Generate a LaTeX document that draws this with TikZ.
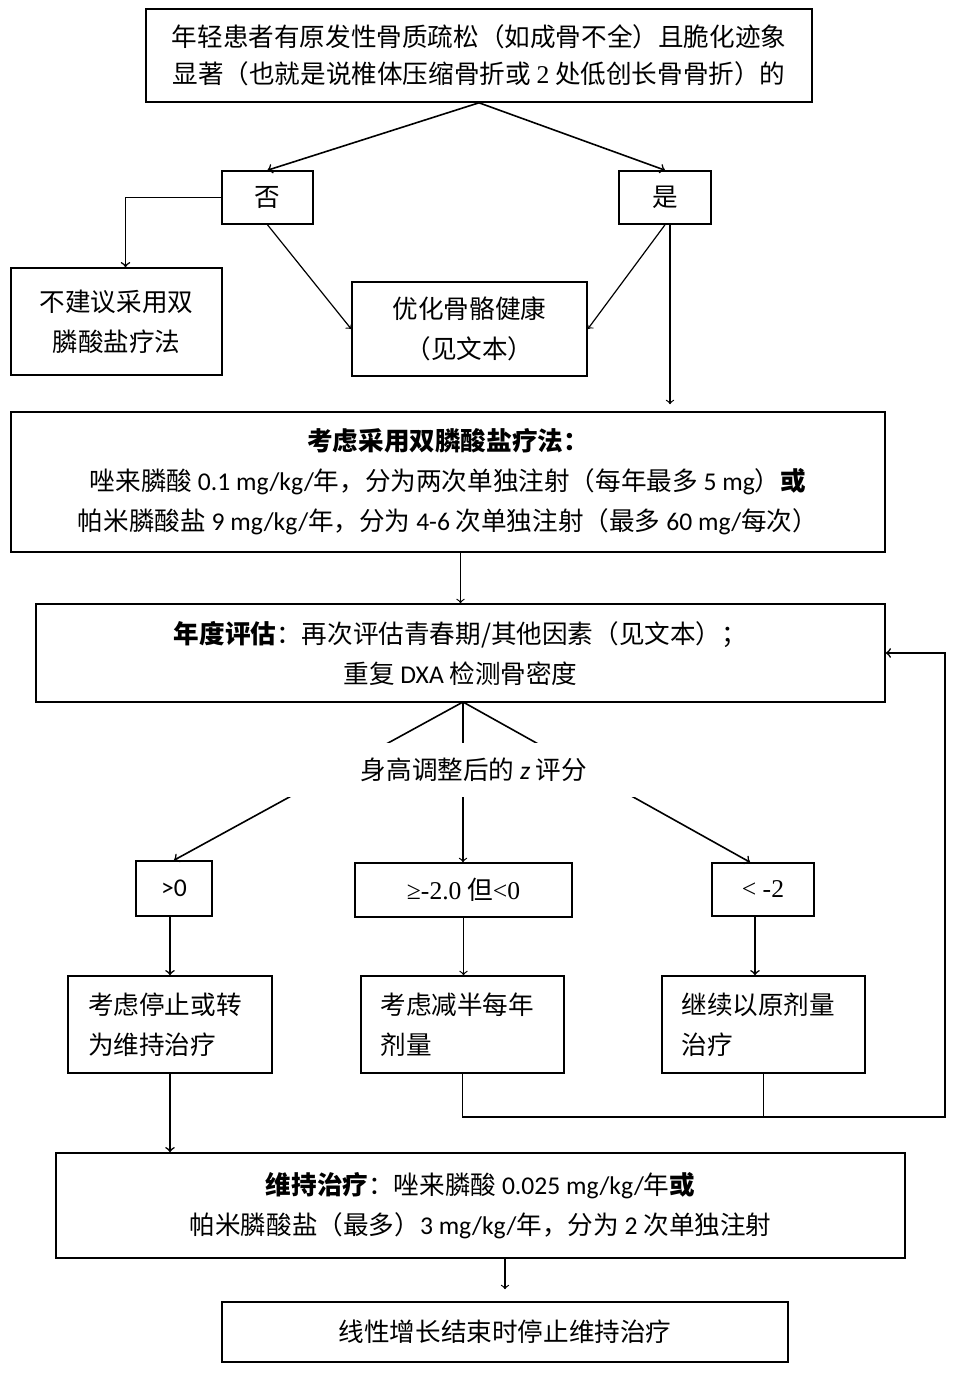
\documentclass[tikz,border=0pt]{standalone}
\usepackage{fontspec}
\setmainfont{Noto Sans CJK SC}
\newfontfamily\calfont{Carlito}
\newfontfamily\timesfont{Liberation Serif}
\newcommand{\cb}[1]{{\calfont #1}}
\newcommand{\tm}[1]{{\timesfont #1}}
\usetikzlibrary{arrows}

\tikzset{
  box/.style={draw, line width=.8pt, inner sep=0pt, align=center},
  leftbox/.style={box, align=left, text width=82pt},
  conn/.style={->, line width=.6pt},
  link/.style={line width=.8pt}
}

\begin{document}
\begin{tikzpicture}[x=.5pt,y=-.5pt,font=\fontsize{12.8}{20}\selectfont]
  \useasboundingbox (0,0) rectangle (958,1374);
  % first question
  \node[box, minimum width=333pt, minimum height=46.5pt,
        font=\fontsize{12.8}{18.5}\selectfont] (top) at (479,55.5)
    {年轻患者有原发性骨质疏松（如成骨不全）且脆化迹象\\
     显著（也就是说椎体压缩骨折或 \tm{2} 处低创长骨骨折）的};
  \node[box, minimum width=45.5pt, minimum height=26.5pt] (no) at (267.5,197.5) {否};
  \node[box, minimum width=46pt, minimum height=26.5pt] (yes) at (665,197.5) {是};
  \node[box, minimum width=105.5pt, minimum height=53.5pt] (nobis) at (116.5,321.5)
    {不建议采用双\\膦酸盐疗法};
  \node[box, minimum width=117.5pt, minimum height=47pt] (bone) at (469.5,329)
    {优化骨骼健康\\（见文本）};
  % treatment
  \node[box, minimum width=437pt, minimum height=70pt] (bis) at (448,482)
    {\textbf{考虑采用双膦酸盐疗法：}\\
     唑来膦酸 \cb{0.1 mg/kg/}年，分为两次单独注射（每年最多 \cb{5 mg}）\textbf{或}\\
     帕米膦酸盐 \cb{9 mg/kg/}年，分为 \cb{4-6} 次单独注射（最多 \cb{60 mg/}每次）};
  \node[box, minimum width=424.5pt, minimum height=49pt] (annual) at (460.5,653)
    {\textbf{年度评估}：再次评估青春期/其他因素（见文本）；\\
     重复 \cb{DXA} 检测骨密度};
  % z score branches
  \node[box, minimum width=38pt, minimum height=27.5pt] (gt) at (174,888.5) {\cb{>0}};
  \node[box, minimum width=108.5pt, minimum height=27pt] (mid) at (463.5,890)
    {\tm{≥-2.0} 但\tm{<0}};
  \node[box, minimum width=51pt, minimum height=26.5pt] (lt) at (763,889.5) {\tm{< -2}};
  \node[leftbox, minimum width=102pt, minimum height=48.5pt] (act1) at (170,1024.5)
    {考虑停止或转\\为维持治疗};
  \node[leftbox, minimum width=101.5pt, minimum height=48.5pt] (act2) at (462.5,1024.5)
    {考虑减半每年\\剂量};
  \node[leftbox, minimum width=101.5pt, minimum height=48.5pt] (act3) at (763.5,1024.5)
    {继续以原剂量\\治疗};
  % maintenance
  \node[box, minimum width=424.5pt, minimum height=52.5pt] (maint) at (480.5,1205.5)
    {\textbf{维持治疗}：唑来膦酸 \cb{0.025 mg/kg/}年\textbf{或}\\
     帕米膦酸盐（最多）\cb{3 mg/kg/}年，分为 \cb{2} 次单独注射};
  \node[box, minimum width=283pt, minimum height=30pt] (stop) at (505,1332)
    {线性增长结束时停止维持治疗};
  \coordinate (loop) at (945,1117);
  \coordinate (fork) at (463,702);

  \draw[conn, line width=.8pt] (top.south) -- (no.north);
  \draw[conn, line width=.8pt] (top.south) -- (yes.north);
  \draw[conn, line width=.8pt] (no.west) -| ([xshift=4.5pt]nobis.north);
  \draw[conn] (no.south) -- (bone.west);
  \draw[conn] (yes.south) -- (bone.east);
  \draw[conn, shorten >=3.5pt] ([xshift=2.5pt]yes.south) -- ([xshift=2.5pt]yes.south |- bis.north);
  \draw[conn] (bis.south -| annual.north) -- (annual.north);
  \draw[conn, line width=.8pt] (fork) -- (gt.north);
  \draw[conn] (fork) -- (fork |- mid.north);
  \draw[conn, line width=.8pt] (fork) -- ([xshift=-6.5pt]lt.north);
  \node[fill=white, minimum width=190pt, minimum height=27pt, inner sep=0pt] (zscore) at (474,770)
    {身高调整后的 \cb{\itshape z} 评分};
  \draw[conn, line width=.8pt] (act1.north |- gt.south) -- (act1.north);
  \draw[conn] (mid.south) -- (mid.south |- act2.north);
  \draw[conn, line width=.8pt] ([xshift=-4pt]lt.south) -- ([xshift=-4pt]lt.south |- act3.north);
  \draw[conn, link] (act2.south) |- (loop) |- (annual.east);
  \draw[link] (act3.south) -- (act3.south |- loop);
  \draw[conn, line width=.8pt] (act1.south) -- (act1.south |- maint.north);
  \draw[conn, shorten >=6pt] (stop.north |- maint.south) -- (stop.north);
\end{tikzpicture}
\end{document}
